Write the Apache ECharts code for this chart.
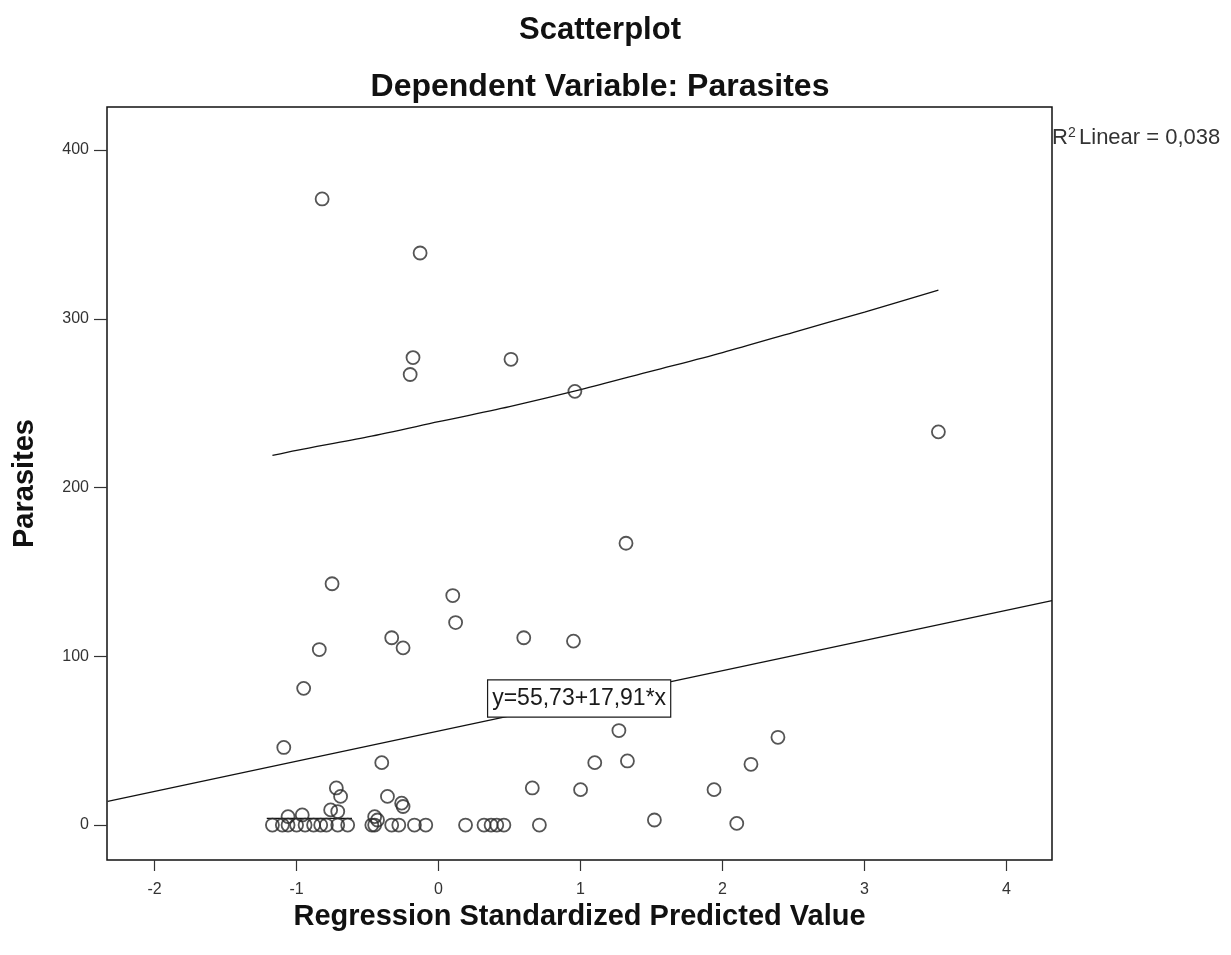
<!DOCTYPE html>
<html>
<head>
	<meta charset="utf-8">
	<title>Scatterplot - Parasites</title>
	<script src="https://cdn.jsdelivr.net/npm/echarts@6/dist/echarts.min.js"></script>
	<style>
		html, body { margin:0; padding:0; background:#fff; }
		#chart { width:1231px; height:955px; }
	</style>
</head>
<body>
<div id="chart"></div>
<script type="text/javascript">
// observed points (standardized predicted value, parasites)
var predX = [-0.82, -0.13, -0.18, -0.20, 0.51, 0.96, 3.52, 1.32, -0.75, 0.10,
	0.12, -0.33, 0.60, 0.95, -0.84, -0.25, -0.95, 1.27, 2.39, -1.09,
	-0.40, 1.10, 1.33, 2.20, 0.66, 1.00, 1.94, -0.72, -0.69, -0.36,
	-0.26, -0.25, 1.52, 2.10, -0.76, -0.71, -1.06, -0.96, -0.45, -0.43,
	-1.17, -1.10, -1.06, -1.00, -0.94, -0.88, -0.83, -0.79, -0.71, -0.64,
	-0.47, -0.45, -0.33, -0.28, -0.17, -0.09, 0.19, 0.32, 0.37, 0.41,
	0.46, 0.71];
var parasites = [371, 339, 277, 267, 276, 257, 233, 167, 143, 136,
	120, 111, 111, 109, 104, 105, 81, 56, 52, 46,
	37, 37, 38, 36, 22, 21, 21, 22, 17, 17,
	13, 11, 3, 1, 9, 8, 5, 6, 5, 3,
	0, 0, 0, 0, 0, 0, 0, 0, 0, 0,
	0, 0, 0, 0, 0, 0, 0, 0, 0, 0,
	0, 0];

// fit line end points and upper prediction curve
var fitLine = [[-2.33, 14], [4.32, 133]];
var upperCurve = [[-1.17, 219], [-1, 222], [-0.5, 230], [0, 239], [0.5, 248], [1, 258],
	[1.5, 269], [2, 280], [2.5, 292], [3, 304], [3.52, 317]];
var shortLine = [[-1.21, 4], [-0.61, 4]];

var xTicks = [-2, -1, 0, 1, 2, 3, 4];
var yTicks = [0, 100, 200, 300, 400];
var equationText = 'y=55,73+17,91*x';
var equationAt = [0.99, 75];
var r2Text = 'Linear = 0,038';

var points = predX.map(function (x, i) { return [x, parasites[i]]; });

var chart = echarts.init(document.getElementById('chart'));
var font = '"Liberation Sans", Arial, sans-serif';

chart.setOption({
	backgroundColor: '#fff',
	animation: false,
	grid: {
		left: 107, right: 179, top: 107, bottom: 95,
		show: true, borderColor: '#111', borderWidth: 1.5, backgroundColor: '#fff'
	},
	xAxis: {
		type: 'value',
		min: -2.335, max: 4.32,
		name: 'Regression Standardized Predicted Value',
		nameLocation: 'middle',
		nameGap: 35,
		nameTextStyle: { fontFamily: font, fontSize: 29, fontWeight: 'bold', color: '#111' },
		axisLine: { show: false, onZero: false },
		splitLine: { show: false },
		axisTick: { show: true, length: 11, lineStyle: { color: '#333', width: 1.2 }, customValues: xTicks },
		axisLabel: { margin: 22, fontFamily: font, fontSize: 16, color: '#333', customValues: xTicks }
	},
	yAxis: {
		type: 'value',
		min: -20.7, max: 425.5,
		name: 'Parasites',
		nameLocation: 'middle',
		nameGap: 68,
		nameTextStyle: { fontFamily: font, fontSize: 29, fontWeight: 'bold', color: '#111' },
		axisLine: { show: false, onZero: false },
		splitLine: { show: false },
		axisTick: { show: true, length: 13, lineStyle: { color: '#333', width: 1.2 }, customValues: yTicks },
		axisLabel: { margin: 18, fontFamily: font, fontSize: 16, color: '#333', customValues: yTicks }
	},
	series: [{
		type: 'line',
		data: fitLine,
		symbol: 'none',
		lineStyle: { color: '#111', width: 1.3 },
		z: 2
	}, {
		type: 'line',
		data: upperCurve,
		symbol: 'none',
		smooth: 0.3,
		lineStyle: { color: '#111', width: 1.3 },
		z: 2
	}, {
		type: 'line',
		data: shortLine,
		symbol: 'none',
		lineStyle: { color: '#111', width: 1.3 },
		z: 2
	}, {
		type: 'scatter',
		data: points,
		symbol: 'circle',
		symbolSize: 13,
		itemStyle: { color: 'rgba(255,255,255,0)', borderColor: '#2a2a2a', borderWidth: 1.8 },
		z: 3
	}],
	graphic: [{
		type: 'text',
		x: 600,
		y: 30,
		style: {
			text: 'Scatterplot',
			textAlign: 'center',
			textVerticalAlign: 'middle',
			font: 'bold 31px ' + font,
			fill: '#111'
		}
	}, {
		type: 'text',
		x: 600,
		y: 87,
		style: {
			text: 'Dependent Variable: Parasites',
			textAlign: 'center',
			textVerticalAlign: 'middle',
			font: 'bold 32px ' + font,
			fill: '#111'
		}
	}, {
		type: 'text',
		left: 1052,
		top: 126,
		style: {
			text: '{r|R}{s|2} {r|' + r2Text + '}',
			rich: {
				r: { fontFamily: font, fontSize: 22, fill: '#333', verticalAlign: 'bottom' },
				s: { fontFamily: font, fontSize: 14, fill: '#333', verticalAlign: 'top', padding: [0, 0, 9, 0] }
			}
		}
	}]
});

// equation box, placed at its data position through the axes
var eqPos = chart.convertToPixel({ gridIndex: 0 }, equationAt);
chart.setOption({
	graphic: [{
		id: 'equation',
		type: 'text',
		x: eqPos[0],
		y: eqPos[1],
		z: 100,
		style: {
			text: equationText,
			align: 'center',
			verticalAlign: 'middle',
			font: '23px ' + font,
			fill: '#1a1a1a',
			backgroundColor: '#fff',
			borderColor: '#1a1a1a',
			borderWidth: 1.2,
			padding: [7, 4, 6, 4]
		}
	}]
});
</script>
</body>
</html>
